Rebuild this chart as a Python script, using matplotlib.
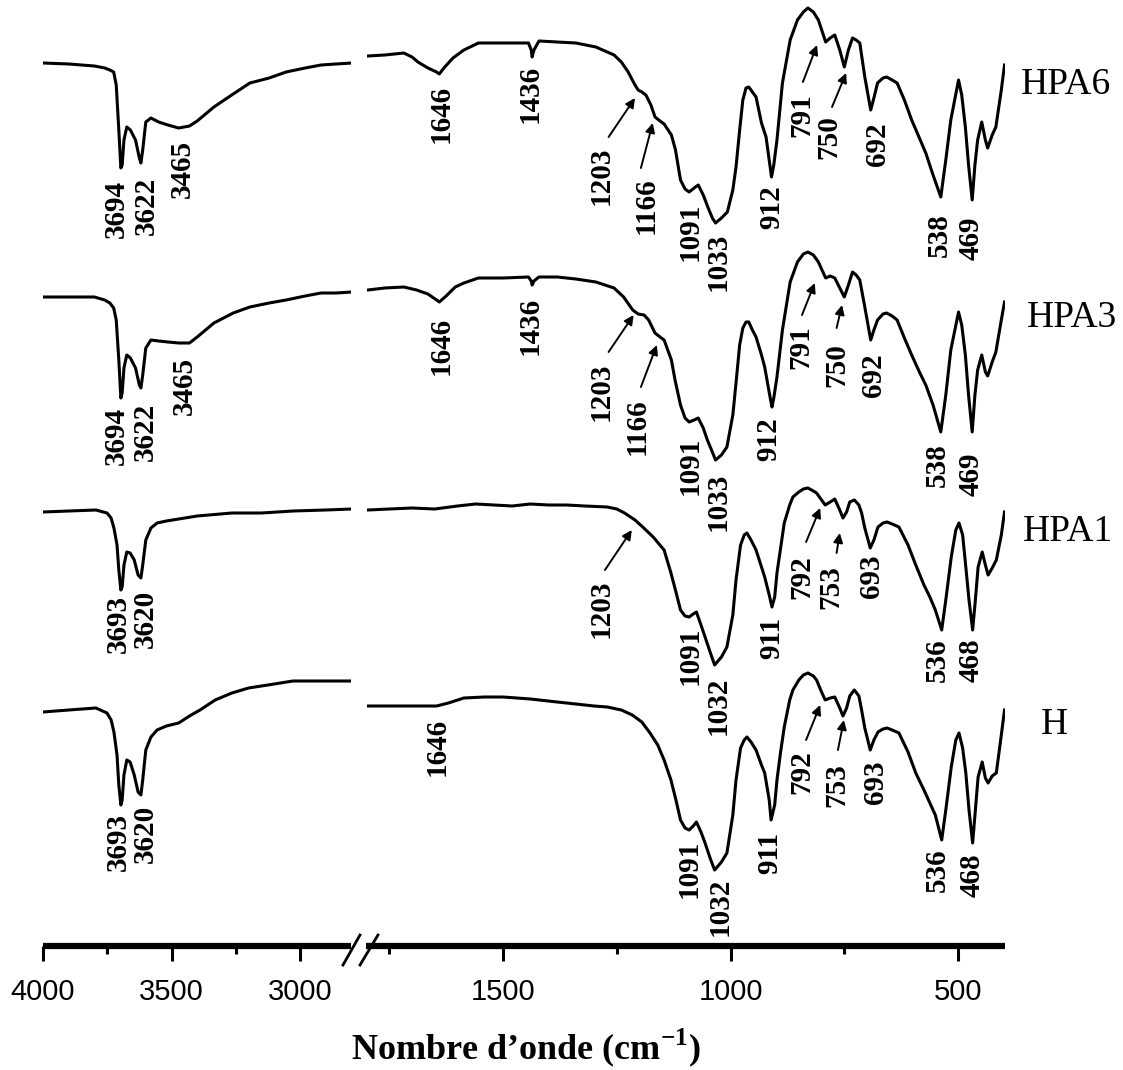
import matplotlib
matplotlib.use('Agg')
import matplotlib.pyplot as plt
from matplotlib.lines import Line2D

plt.rcParams['mathtext.fontset'] = 'custom'
plt.rcParams['mathtext.rm'] = 'Liberation Serif'
plt.rcParams['mathtext.bf'] = 'Liberation Serif:bold'

# ---------------- data (transmittance, arbitrary units, relative to each trace) -------------
samples = ['HPA6', 'HPA3', 'HPA1', 'H']
offsets = [886, 656, 436, 246]

# high-wavenumber segment (4000-2800 cm-1)
hpa6_wn_hi = [4000, 3900, 3800, 3760, 3740, 3725, 3715, 3705, 3697, 3692, 3685, 3674, 3660, 3640, 3625,
              3619, 3612, 3600, 3580, 3550, 3514, 3472, 3430, 3400, 3335, 3260, 3195, 3120, 3054, 2980,
              2918, 2860, 2798]
hpa6_t_hi = [-3, -4, -6, -8, -10, -12, -25, -70, -108, -105, -80, -67, -70, -80, -98, -103, -90, -62, -58,
             -62, -65, -68, -66, -61, -47, -34, -23, -18, -12, -8, -5, -4, -3]

hpa3_wn_hi = hpa6_wn_hi
hpa3_t_hi = [-7, -7, -7, -10, -13, -18, -30, -70, -108, -103, -78, -65, -68, -78, -95, -98, -85, -58, -50,
             -51, -52, -53, -53, -47, -33, -23, -17, -13, -10, -6, -3, -3, -2]

hpa1_wn_hi = [4000, 3900, 3794, 3751, 3735, 3724, 3712, 3705, 3697, 3692, 3685, 3674, 3661, 3645, 3630,
              3619, 3612, 3600, 3580, 3556, 3520, 3472, 3400, 3265, 3150, 3027, 2900, 2798]
hpa1_t_hi = [-2, -1, 0, -3, -8, -18, -35, -60, -80, -77, -55, -42, -43, -50, -65, -68, -55, -30, -18, -13,
             -11, -9, -6, -3, -3, -1, 0, 1]

h_wn_hi = [4000, 3900, 3794, 3751, 3735, 3724, 3712, 3705, 3697, 3692, 3685, 3674, 3661, 3645, 3630,
           3619, 3612, 3600, 3580, 3556, 3520, 3472, 3430, 3389, 3330, 3265, 3200, 3125, 3027, 2950,
           2870, 2798]
h_t_hi = [-12, -10, -8, -13, -20, -32, -55, -85, -105, -100, -75, -60, -62, -75, -92, -95, -80, -50, -37,
          -30, -26, -23, -16, -10, 0, 7, 12, 15, 19, 19, 19, 19]

# low-wavenumber segment (1800-400 cm-1)
hpa6_wn_lo = [1797, 1760, 1718, 1700, 1687, 1665, 1646, 1640, 1630, 1610, 1586, 1554, 1500, 1444, 1438,
              1436, 1432, 1421, 1381, 1340, 1296, 1256, 1240, 1225, 1210, 1203, 1195, 1186, 1175, 1166,
              1155, 1146, 1130, 1121, 1110, 1100, 1091, 1080, 1071, 1060, 1050, 1040, 1033, 1020, 1007,
              995, 988, 980, 973, 966, 960, 952, 944, 932, 922, 910, 905, 898, 886, 869, 853, 840, 830,
              818, 807, 791, 781, 771, 760, 750, 741, 732, 724, 716, 705, 692, 685, 677, 665, 657, 645,
              634, 618, 602, 585, 571, 555, 538, 527, 516, 499, 492, 484, 477, 469, 463, 457, 448, 440,
              435, 425, 417, 405, 398]
hpa6_t_lo = [4, 5, 7, 3, -2, -8, -12, -14, -8, 2, 10, 17, 17, 17, 10, 3, 10, 19, 18, 17, 13, 5, -2, -12,
             -25, -30, -32, -35, -45, -57, -61, -64, -75, -90, -120, -129, -132, -128, -125, -135, -147,
             -158, -163, -158, -152, -130, -107, -70, -40, -28, -27, -32, -37, -63, -77, -117, -105, -80,
             -23, 20, 40, 48, 52, 48, 40, 18, 22, 25, 10, -7, 10, 22, 20, 17, -17, -50, -38, -23, -18,
             -17, -20, -23, -40, -60, -78, -93, -115, -137, -100, -60, -20, -35, -67, -105, -140, -105,
             -80, -62, -80, -88, -75, -67, -30, -5]

hpa3_wn_lo = [1797, 1760, 1718, 1690, 1665, 1646, 1640, 1625, 1605, 1586, 1554, 1500, 1444, 1438, 1436,
              1432, 1421, 1381, 1340, 1296, 1256, 1235, 1215, 1203, 1190, 1180, 1166, 1155, 1146, 1130,
              1122, 1110, 1100, 1091, 1080, 1071, 1060, 1051, 1040, 1033, 1020, 1008, 995, 988, 980, 973,
              966, 960, 952, 944, 932, 925, 912, 909, 905, 898, 886, 869, 853, 840, 830, 818, 807, 791,
              781, 771, 760, 750, 741, 732, 724, 716, 705, 692, 685, 677, 665, 657, 645, 634, 618, 602,
              585, 571, 555, 538, 527, 516, 499, 492, 484, 477, 469, 463, 457, 448, 440, 435, 425, 417,
              405, 398]
hpa3_t_lo = [0, 2, 3, 0, -4, -10, -12, -6, 3, 7, 12, 12, 13, 9, 5, 9, 13, 13, 11, 8, 2, -7, -20, -24, -25,
             -30, -43, -47, -50, -70, -90, -115, -128, -132, -130, -128, -138, -150, -162, -170, -165,
             -157, -125, -93, -55, -38, -32, -32, -40, -47, -65, -77, -110, -117, -108, -87, -40, 8, 28,
             36, 38, 35, 28, 12, 14, 12, 2, -7, 5, 18, 15, 10, -17, -50, -40, -30, -24, -23, -26, -30,
             -48, -65, -82, -95, -115, -142, -105, -60, -22, -35, -65, -105, -142, -105, -80, -65, -82,
             -86, -72, -62, -30, -12]

hpa1_wn_lo = [1797, 1750, 1700, 1650, 1600, 1560, 1520, 1480, 1440, 1400, 1360, 1320, 1271, 1250, 1233,
              1210, 1193, 1170, 1146, 1131, 1120, 1110, 1100, 1091, 1082, 1075, 1065, 1056, 1045, 1035,
              1020, 1008, 995, 988, 978, 970, 964, 955, 944, 932, 925, 915, 909, 903, 898, 890, 882, 870,
              863, 850, 840, 830, 818, 811, 800, 792, 781, 771, 760, 753, 745, 738, 728, 718, 712, 705,
              693, 685, 676, 665, 656, 645, 630, 610, 593, 575, 562, 550, 536, 527, 515, 505, 498, 490,
              483, 476, 468, 462, 456, 447, 440, 434, 425, 416, 405, 398]
hpa1_t_lo = [0, 1, 2, 1, 4, 6, 5, 4, 6, 5, 5, 4, 3, 1, -3, -10, -17, -27, -40, -63, -82, -100, -106, -107,
             -104, -102, -115, -127, -142, -155, -147, -137, -105, -70, -35, -25, -23, -30, -40, -57, -67,
             -85, -97, -87, -63, -38, -13, 5, 13, 18, 21, 22, 19, 17, 10, 5, 8, 11, 0, -8, -2, 8, 10, 5,
             -3, -18, -38, -30, -17, -13, -12, -14, -17, -35, -55, -75, -87, -100, -120, -90, -47, -20,
             -13, -25, -57, -90, -120, -90, -57, -42, -55, -65, -58, -50, -25, -2]

h_wn_lo = [1797, 1700, 1646, 1620, 1586, 1540, 1500, 1440, 1381, 1340, 1300, 1271, 1240, 1216, 1195,
           1177, 1160, 1146, 1131, 1120, 1110, 1100, 1091, 1082, 1075, 1065, 1056, 1045, 1035, 1020,
           1008, 995, 988, 978, 970, 964, 955, 944, 932, 925, 915, 911, 903, 898, 890, 882, 870, 863,
           850, 840, 830, 818, 811, 800, 792, 781, 771, 760, 753, 745, 738, 728, 718, 712, 705, 693,
           685, 676, 665, 656, 645, 630, 610, 593, 575, 562, 550, 536, 527, 515, 505, 498, 490, 483,
           476, 468, 462, 456, 447, 440, 434, 425, 416, 405, 398]
h_t_lo = [-6, -6, -6, -3, 2, 3, 3, 1, -2, -4, -6, -7, -10, -15, -22, -33, -45, -60, -80, -100, -120,
          -128, -130, -126, -122, -132, -143, -158, -170, -162, -153, -115, -80, -48, -40, -37, -42, -50,
          -65, -73, -100, -120, -105, -80, -52, -27, 0, 10, 20, 25, 27, 24, 20, 8, 0, 2, 3, -8, -16, -8,
          4, 10, 4, -10, -28, -50, -40, -32, -29, -28, -30, -33, -52, -73, -90, -103, -115, -140, -110,
          -67, -40, -33, -48, -73, -110, -143, -110, -77, -62, -78, -83, -76, -73, -35, -10]

# peak labels: (text, wavenumber, vertical position of label top)
hpa6_labels = [('3694', 3716, 766), ('3622', 3599, 769), ('3465', 3459, 806), ('1646', 1636, 861),
               ('1436', 1441, 881), ('1203', 1285, 799), ('1166', 1186, 769), ('1091', 1089, 743),
               ('1033', 1028, 713), ('912', 909, 761), ('791', 843, 853), ('750', 783, 831),
               ('692', 678, 824), ('538', 542, 733), ('469', 472, 729)]
hpa3_labels = [('3694', 3716, 539), ('3622', 3603, 543), ('3465', 3451, 589), ('1646', 1636, 629),
               ('1436', 1441, 649), ('1203', 1285, 583), ('1166', 1206, 548), ('1091', 1089, 509),
               ('1033', 1028, 473), ('912', 916, 529), ('791', 845, 621), ('750', 767, 603),
               ('692', 685, 593), ('538', 546, 503), ('469', 472, 493)]
hpa1_labels = [('3693', 3708, 351), ('3620', 3603, 356), ('1203', 1285, 366), ('1091', 1089, 319),
               ('1032', 1028, 269), ('911', 909, 329), ('792', 843, 391), ('753', 779, 381),
               ('693', 690, 391), ('536', 546, 308), ('468', 472, 308)]
h_labels = [('3693', 3708, 133), ('3620', 3603, 141), ('1646', 1644, 228), ('1091', 1091, 106),
            ('1032', 1023, 68), ('911', 914, 114), ('792', 843, 196), ('753', 766, 183),
            ('693', 681, 186), ('536', 546, 98), ('468', 469, 93)]

# arrows: (tail wn, tail y, head wn, head y)
arrows = [(1268, 809, 1210, 848), (1197, 778, 1171, 823), (841, 864, 810, 901), (777, 839, 746, 873),
          (1268, 594, 1213, 631), (1197, 559, 1162, 601), (843, 631, 815, 663), (767, 618, 755, 641),
          (1276, 376, 1217, 416), (834, 404, 803, 438), (767, 393, 760, 413),
          (834, 206, 803, 241), (764, 196, 751, 226)]

hi_major = [4000, 3500, 3000]
hi_minor = [3750, 3250]
lo_major = [1500, 1000, 500]
lo_minor = [1750, 1250, 750]

# ---------------- figure ----------------
W, H = 1123, 1070
fig = plt.figure(figsize=(W / 100, H / 100), dpi=100)
bottom = 124 / H
height = 946 / H
ax1 = fig.add_axes([43 / W, bottom, 308.4 / W, height])
ax2 = fig.add_axes([366.5 / W, bottom, 638 / W, height])
ax1.set_xlim(4000, 2800)
ax2.set_xlim(1800, 398)
for ax in (ax1, ax2):
    ax.set_ylim(0, 946)
    ax.patch.set_alpha(0)
    for s in ('top', 'right', 'left'):
        ax.spines[s].set_visible(False)
    ax.spines['bottom'].set_linewidth(4.5)
    ax.spines['bottom'].set_capstyle('butt')
    ax.set_yticks([])
    ax.tick_params(axis='x', which='major', length=11, width=2.2, pad=12,
                   labelsize=21, direction='out')
    ax.tick_params(axis='x', which='minor', length=6, width=2.2, direction='out')
    for lab in ax.get_xticklabels():
        lab.set_fontfamily('Liberation Sans')
ax1.set_xticks(hi_major)
ax1.set_xticks(hi_minor, minor=True)
ax2.set_xticks(lo_major)
ax2.set_xticks(lo_minor, minor=True)
for ax in (ax1, ax2):
    for lab in ax.get_xticklabels():
        lab.set_fontfamily('Liberation Sans')
        lab.set_fontsize(21)

hi_data = [(hpa6_wn_hi, hpa6_t_hi), (hpa3_wn_hi, hpa3_t_hi), (hpa1_wn_hi, hpa1_t_hi), (h_wn_hi, h_t_hi)]
lo_data = [(hpa6_wn_lo, hpa6_t_lo), (hpa3_wn_lo, hpa3_t_lo), (hpa1_wn_lo, hpa1_t_lo), (h_wn_lo, h_t_lo)]
all_labels = [hpa6_labels, hpa3_labels, hpa1_labels, h_labels]

for off, (wh, th), (wl, tl) in zip(offsets, hi_data, lo_data):
    ax1.plot(wh, [off + t for t in th], color='black', lw=2.2, solid_joinstyle='round')
    ax2.plot(wl, [off + t for t in tl], color='black', lw=2.2, solid_joinstyle='round')

lab_font = dict(family='Liberation Serif', weight='bold', size=21)
for labs in all_labels:
    for txt, wn, y in labs:
        ax = ax1 if wn > 2000 else ax2
        ax.text(wn, y, txt, rotation=90, ha='center', va='top', clip_on=False, **lab_font)

for x0, y0, x1, y1 in arrows:
    ax2.annotate('', xy=(x1, y1), xytext=(x0, y0),
                 arrowprops=dict(arrowstyle='-|>', lw=1.4, color='black', mutation_scale=14,
                                 shrinkA=0, shrinkB=0))

# sample names
name_pos = [(1021, 85), (1027, 318), (1023, 532), (1041, 725)]
for name, (px, py) in zip(samples, name_pos):
    fig.text(px / W, 1 - py / H, name, ha='left', va='center',
             family='Liberation Serif', size=27)

# axis break marks
for (xa, ya, xb, yb) in [(343, 965, 360, 935), (360, 965, 378, 935)]:
    fig.add_artist(Line2D([xa / W, xb / W], [1 - ya / H, 1 - yb / H], color='black', lw=2.0))

fig.text(526 / W, 1 - 1048 / H, 'Nombre d\u2019onde (cm$^{\\mathbf{-1}}$)', ha='center', va='center',
         family='Liberation Serif', weight='bold', size=26)

fig.savefig('out.png', dpi=100)
